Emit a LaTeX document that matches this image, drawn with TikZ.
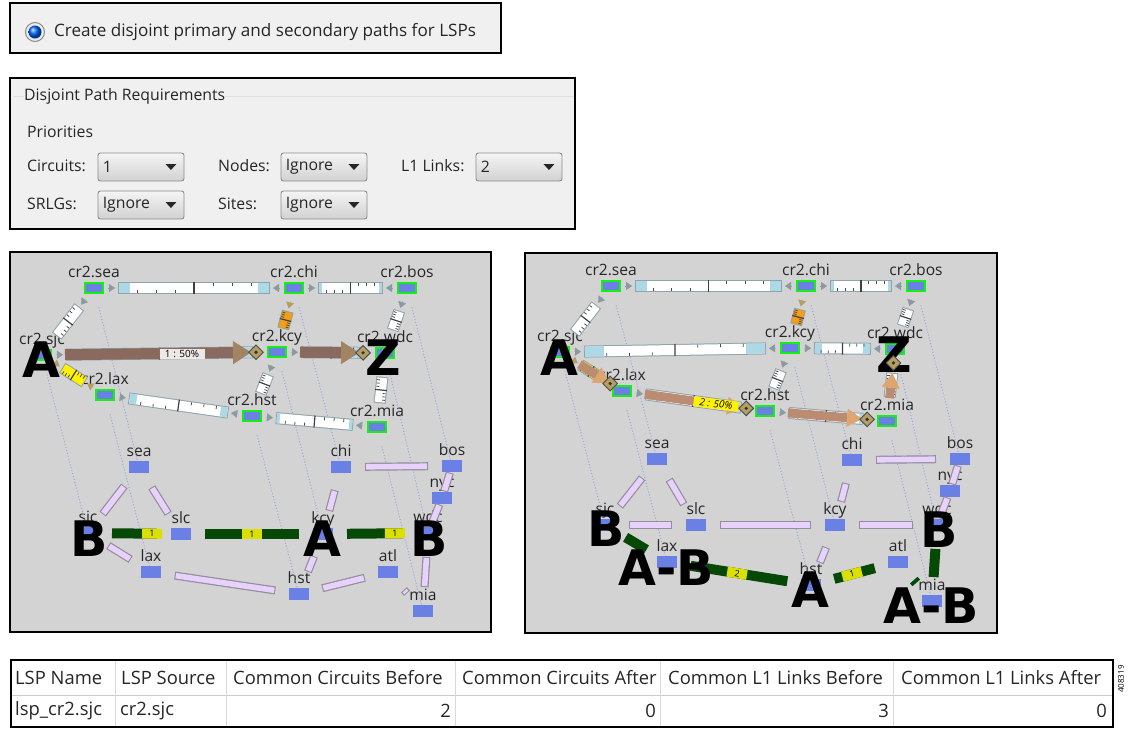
\documentclass[tikz,border=0pt]{standalone}
\usepackage{fontspec}
\setmainfont{Open Sans}
\newfontfamily\heavyfont{DejaVu Sans}
\usetikzlibrary{arrows.meta,calc,shapes.geometric}

\definecolor{panelgrey}{HTML}{D3D3D3}
\definecolor{formgrey}{HTML}{F0F0F0}
\definecolor{routerblue}{HTML}{6A80E4}
\definecolor{routergreen}{HTML}{14F014}
\definecolor{dotblue}{HTML}{98A6E0}
\definecolor{lilac}{HTML}{E6D2FA}
\definecolor{lilacedge}{HTML}{958C9E}
\definecolor{riskgreen}{HTML}{064806}
\definecolor{riskyellow}{HTML}{DCE000}
\definecolor{barblue}{HTML}{ADD8E6}
\definecolor{baredge}{HTML}{8FA3AB}
\definecolor{tipgrey}{HTML}{8A9AA0}
\definecolor{amber}{HTML}{F59E12}
\definecolor{shaftbrown}{HTML}{8A6A5E}
\definecolor{headbrown}{HTML}{A38462}
\definecolor{shaftsalmon}{HTML}{BC8C72}
\definecolor{headsalmon}{HTML}{DCA671}
\definecolor{endtan}{HTML}{B59E62}

% circuit bar between two routers: nodes, fill, length of blue ends
\newcommand{\circuit}[4]{
  \coordinate (p) at ($(#1.center)!24pt!(#2.center)$);
  \coordinate (q) at ($(#2.center)!24pt!(#1.center)$);
  \draw[line width=12pt,baredge] (p) -- (q);
  \draw[line width=10pt,#3] ($(p)!1pt!(q)$) -- ($(q)!1pt!(p)$);
  \draw[line width=10pt,barblue] ($(p)!1pt!(q)$) -- ($(p)!#4!(q)$);
  \draw[line width=10pt,barblue] ($(q)!1pt!(p)$) -- ($(q)!#4!(p)$);
  \draw[line width=1.2pt,black!75] ($(p)!.5!(q)!6pt!90:(q)$) -- ($(p)!.5!(q)!6pt!-90:(q)$);
  \foreach \t in {.125,.25,.375}
    \draw[line width=.8pt,black!70] ($(p)!\t!(q)!5pt!-90:(q)$) -- ($(p)!\t!(q)!2pt!-90:(q)$);
  \foreach \t in {.625,.75,.875}
    \draw[line width=.8pt,black!70] ($(p)!\t!(q)!5pt!90:(q)$) -- ($(p)!\t!(q)!2pt!90:(q)$);
}
% small triangle at the end of a bar
\newcommand{\bartip}[3]{
  \draw[line width=.3pt,#3,-{Triangle[length=6pt,width=8pt]}] ($(#1.center)!14pt!(#2.center)$) -- ($(#1.center)!21pt!(#2.center)$);
}
% flow arrow with its end marker: nodes, gap of tip, gap of marker, style
\newcommand{\lspflow}[5]{
  \draw[#5] ($(#1.center)!23pt!(#2.center)$) -- ($(#2.center)!#3!(#1.center)$);
  \node[lspend] (#1#2end) at ($(#2.center)!#4!(#1.center)$) {};
}

\begin{document}
\begin{tikzpicture}[x=1pt,y=-1pt]
  \tikzstyle{frame}=[draw=black,line width=1.5pt]
  \tikzstyle{formtext}=[anchor=west,inner sep=0pt,font=\fontsize{15.8}{18}\selectfont,black!85]
  \tikzstyle{combo}=[draw=black!45,line width=.9pt,rounded corners=2.5pt,top color=white!96!black,
              bottom color=black!18,minimum width=86pt,minimum height=28pt,inner sep=0pt]
  \tikzstyle{router}=[rectangle,draw=routergreen,line width=2.5pt,fill=routerblue,minimum width=18pt,
              minimum height=10pt,inner sep=0pt]
  \tikzstyle{site}=[rectangle,fill=routerblue,minimum width=20pt,minimum height=12pt,inner sep=0pt]
  \tikzstyle{rlabel}=[inner sep=0pt,label distance=1.5pt,text height=10pt,text depth=3pt,
              font=\fontsize{15.6}{16}\selectfont,black!85]
  \tikzstyle{layerlink}=[dotblue,line width=1pt,dotted,shorten <=20pt]
  \tikzstyle{lspend}=[diamond,draw=black!70,fill=endtan,line width=.9pt,minimum size=15pt,inner sep=0pt,
              path picture={\fill[black!80] (path picture bounding box.center) circle (1.8pt);}]
  \tikzstyle{risktag}=[fill=riskyellow,minimum width=20pt,minimum height=10pt,inner sep=0pt,sloped,
              font=\fontsize{9}{9}\selectfont]
  \tikzstyle{lsptag}=[minimum width=45pt,minimum height=10pt,inner sep=0pt,font=\fontsize{10}{10}\selectfont]
  \tikzstyle{bigletter}=[inner sep=0pt,font=\heavyfont\bfseries\fontsize{49}{49}\selectfont]
  \tikzstyle{tablehead}=[anchor=west,inner sep=0pt,font=\fontsize{18.4}{20}\selectfont,black!85]
  \tikzstyle{lspbig}=[line width=11pt,shaftbrown,-{Triangle[length=18pt,width=23pt,line width=.8pt,color=headbrown]}]
  \tikzstyle{lspsmall}=[line width=9pt,shaftsalmon,-{Triangle[length=15pt,width=18pt,line width=.8pt,color=headsalmon]}]

  \useasboundingbox (0,0) rectangle (1128,729);

  % radio option
  \draw[frame,fill=formgrey] (10,3) rectangle (501,53);
  \node[circle,draw=black!45,line width=1pt,fill=black!8,minimum size=19pt,inner sep=0pt] (radio) at (35,32) {};
  \node[circle,ball color=blue!60!cyan,minimum size=13pt,inner sep=0pt] (radiodot) at (radio) {};
  \node[formtext,font=\fontsize{17.1}{20}\selectfont] (radiotext) at (54,32) {Create disjoint primary and secondary paths for LSPs};

  % requirements form
  \draw[frame,fill=formgrey] (10,78) rectangle (575,229);
  \node[formtext] (reqtitle) at (24,96) {Disjoint Path Requirements};
  \coordinate (reqleft) at (13,96);
  \coordinate (reqright) at (574,96);
  \draw[black!12] (reqleft) -- (reqtitle.west) (reqtitle.east) -- (reqright);
  \node[formtext] (priorities) at (27,132) {Priorities};
  \foreach \name/\x/\y/\txt in {circuits/27/166/Circuits:,nodes/218/166/Nodes:,links/401/166/L1 Links:,srlgs/27/204/SRLGs:,sites/218/204/Sites:}
    \node[formtext] (\name) at (\x,\y) {\txt};
  \foreach \name/\x/\y/\txt in {ccircuits/141/167/1,cnodes/324/167/Ignore,clinks/519/167/2,csrlgs/141/205/Ignore,csites/324/205/Ignore}{
    \node[combo] (\name) at (\x,\y) {};
    \node[formtext] (\name text) at ($(\name.west)+(5,0)$) {\txt};
    \fill[black!85] ($(\name.east)+(-19,-3)$) -- ++(11,0) -- ++(-5.5,6) -- cycle;
  }

  % network panels
  \draw[frame,fill=panelgrey] (10,252) rectangle (491,632);
  \draw[frame,fill=panelgrey] (525,253) rectangle (997,633);

  % routers of the upper layer
  \foreach \name/\x/\y in {sea/94/288,chi/294/288,bos/407/288,kcy/277/352,wdc/385/353,sjc/42/355,lax/105/395,hst/252/416,mia/377/427}
    \node[router,label={[rlabel]above:cr2.\name}] (lc\name) at (\x,\y) {};
  \foreach \name/\x/\y in {sea/611/286,chi/806/286,bos/916/286,kcy/790/348,wdc/895/349,sjc/560/352,lax/622/391,hst/765/411,mia/887/421}
    \node[router,label={[rlabel]above:cr2.\name}] (rc\name) at (\x,\y) {};
  % sites of the lower layer
  \foreach \name/\x/\y in {sea/139/467,chi/341/467,bos/452/466,nyc/442/498,sjc/88/533,slc/181/534,kcy/323/534,wdc/428/533,lax/151/572,atl/388/572,hst/299/594,mia/423/611}
    \node[site,label={[rlabel]above:\name}] (l\name) at (\x,\y) {};
  \foreach \name/\x/\y in {sea/657/459,chi/852/460,bos/960/459,nyc/950/491,sjc/605/525,slc/696/525,kcy/835/525,wdc/937/525,lax/667/562,atl/898/562,hst/811/585,mia/932/601}
    \node[site,label={[rlabel]above:\name}] (r\name) at (\x,\y) {};

  % dotted lines between the layers
  \foreach \side in {l,r}
    \foreach \name in {sea,chi,bos,kcy,wdc,sjc,lax,hst,mia}
      \draw[layerlink] (\side c\name.center) -- (\side\name);

  % lower links
  \foreach \side in {l,r}
    \foreach \src/\dst in {sea/sjc,sea/slc,chi/bos,chi/kcy,kcy/hst}{
      \draw[line width=8pt,lilacedge,shorten <=24pt,shorten >=24pt] (\side\src.center) -- (\side\dst.center);
      \draw[line width=5.6pt,lilac,shorten <=25pt,shorten >=25pt] (\side\src.center) -- (\side\dst.center);
    }
  \foreach \side in {l,r}
    \foreach \src/\dst in {bos/nyc,nyc/wdc}{
      \draw[line width=8pt,lilacedge,shorten <=7pt,shorten >=7pt] (\side\src.center) -- (\side\dst.center);
      \draw[line width=5.6pt,lilac,shorten <=8pt,shorten >=8pt] (\side\src.center) -- (\side\dst.center);
    }
  \foreach \src/\dst in {lsjc/llax,llax/lhst,lhst/latl,lwdc/lmia,latl/lmia,rsjc/rslc,rslc/rkcy,rkcy/rwdc}{
    \draw[line width=8pt,lilacedge,shorten <=24pt,shorten >=24pt] (\src.center) -- (\dst.center);
    \draw[line width=5.6pt,lilac,shorten <=25pt,shorten >=25pt] (\src.center) -- (\dst.center);
  }
  \foreach \src/\dst/\where/\txt in {lsjc/lslc/.89/1,lslc/lkcy/.5/1,lkcy/lwdc/.84/1,rlax/rhst/.48/2,rhst/ratl/.44/1}{
    \draw[line width=10pt,riskgreen,shorten <=24pt,shorten >=24pt] (\src.center) -- (\dst.center);
    \path ($(\src.center)!24pt!(\dst.center)$) -- ($(\dst.center)!24pt!(\src.center)$) node[risktag,pos=\where] (\src\dst tag) {\txt};
  }
  \foreach \src/\dst in {rsjc/rlax,rwdc/rmia,ratl/rmia}
    \draw[line width=10pt,riskgreen,shorten <=24pt,shorten >=24pt] (\src.center) -- (\dst.center);

  % circuit bars, upper layer
  \circuit{lcsea}{lcchi}{white}{12pt}
  \circuit{lcchi}{lcbos}{white}{4pt}
  \circuit{lcsjc}{lckcy}{white}{12pt}
  \circuit{lckcy}{lcwdc}{white}{8pt}
  \circuit{lcsea}{lcsjc}{white}{1pt}
  \circuit{lcbos}{lcwdc}{white}{1pt}
  \circuit{lcchi}{lckcy}{amber}{1pt}
  \circuit{lckcy}{lchst}{white}{1pt}
  \circuit{lcwdc}{lcmia}{white}{1pt}
  \circuit{lcsjc}{lclax}{yellow}{1pt}
  \circuit{lclax}{lchst}{white}{8pt}
  \circuit{lchst}{lcmia}{white}{4pt}
  \circuit{rcsea}{rcchi}{white}{12pt}
  \circuit{rcchi}{rcbos}{white}{4pt}
  \circuit{rcsjc}{rckcy}{white}{20pt}
  \circuit{rckcy}{rcwdc}{white}{8pt}
  \circuit{rcsea}{rcsjc}{white}{1pt}
  \circuit{rcbos}{rcwdc}{white}{1pt}
  \circuit{rcchi}{rckcy}{amber}{1pt}
  \circuit{rckcy}{rchst}{white}{1pt}
  \circuit{rcwdc}{rcmia}{white}{1pt}
  \circuit{rcsjc}{rclax}{yellow}{1pt}
  \circuit{rclax}{rchst}{white}{8pt}
  \circuit{rchst}{rcmia}{white}{4pt}

  \foreach \side in {l,r}
    \foreach \src/\dst in {sea/chi,chi/sea,chi/bos,bos/chi,sea/sjc,bos/wdc,kcy/hst,sjc/kcy,kcy/wdc,lax/hst,hst/mia}{
      \bartip{\side c\src}{\side c\dst}{tipgrey}
    }
  \foreach \src/\dst in {lchst/lclax,lcmia/lchst,rckcy/rcsjc,rcwdc/rckcy}{
    \bartip{\src}{\dst}{tipgrey}
  }
  \foreach \src/\dst in {lcchi/lckcy,rcchi/rckcy,lcsjc/lclax,lclax/lcsjc,rcsjc/rclax}{
    \bartip{\src}{\dst}{endtan}
  }

  % letters
  \foreach \name/\x/\y/\txt in {la1/41/360/A,lz/383/358/Z,lb1/89/539/B,la2/322/539/A,lb2/429/539/B,
      ra1/559/358/A,rz/894/355/Z,rb1/606/529/B,rab1/666/568/A-B,ra2/810/590/A,rb2/939/530/B,rab2/931/606/A-B}
    \node[bigletter] (\name) at (\x,\y) {\txt};

  % label paths
  \lspflow{lcsjc}{lckcy}{26pt}{21pt}{lspbig}
  \lspflow{lckcy}{lcwdc}{26pt}{22pt}{lspbig}
  \lspflow{rcsjc}{rclax}{15pt}{14pt}{lspsmall}
  \lspflow{rclax}{rchst}{23pt}{19pt}{lspsmall}
  \lspflow{rchst}{rcmia}{25pt}{20pt}{lspsmall}
  \lspflow{rcmia}{rcwdc}{24pt}{14pt}{lspsmall}
  \node[lsptag,fill=white!85!shaftbrown] (ltag) at (182,354) {1 : 50\%};
  \node[lsptag,fill=yellow,rotate=-7] (rtag) at (716,404) {\itshape 2 : 50\%};

  % result table
  \draw[black!20] (11,695) -- (1113,695);
  \foreach \x in {115,226,455,660,893}
    \draw[black!15] (\x,661) -- (\x,727);
  \draw[frame] (11,660) rectangle (1113,727);
  \foreach \name/\x/\txt in {hname/15/LSP Name,hsource/121/LSP Source,hcb/233/Common Circuits Before,hca/462/Common Circuits After,hlb/668/Common L1 Links Before,hla/901/Common L1 Links After}
    \node[tablehead] (\name) at (\x,678) {\txt};
  \node[tablehead] (vname) at (15,711) {lsp\_cr2.sjc};
  \node[tablehead] (vsource) at (120,711) {cr2.sjc};
  \foreach \name/\x/\txt in {vcb/451/2,vca/656/0,vlb/889/3,vla/1107/0}
    \node[tablehead,anchor=east] (\name) at (\x,711) {\txt};
  \node[rotate=90,inner sep=0pt,font=\fontsize{8}{8}\selectfont] (figid) at (1121,679) {408319};
\end{tikzpicture}
\end{document}
